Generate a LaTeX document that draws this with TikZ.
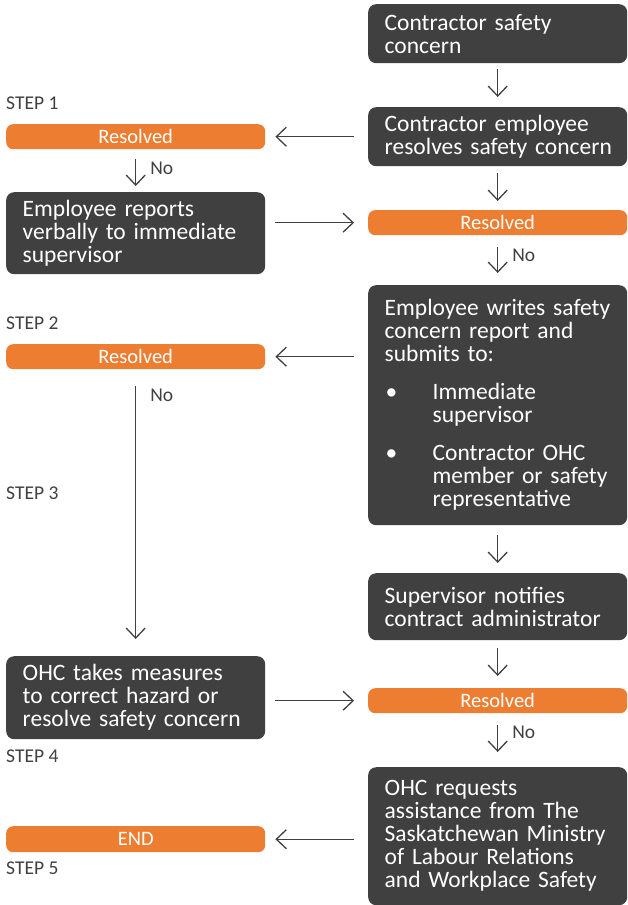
\documentclass[tikz,border=0pt]{standalone}
\usepackage{fontspec}
\setmainfont{Carlito}
\usepackage{tikz}
\usetikzlibrary{arrows.meta}

\definecolor{boxgray}{HTML}{404040}
\definecolor{flagorange}{HTML}{ED7D31}

\tikzset{
    darkbox/.style={fill=boxgray, text=white, rounded corners=8pt, anchor=north west,
        minimum width=259pt, text width=226pt, inner xsep=16.5pt, inner ysep=0pt,
        align=left, font=\fontsize{23.5}{23}\selectfont},
    resolvedbar/.style={fill=flagorange, text=white, rounded corners=7pt, anchor=north west,
        minimum width=259pt, minimum height=25pt, inner sep=0pt,
        font=\fontsize{20.5}{22}\selectfont},
    steplabel/.style={anchor=west, inner sep=0pt, text=boxgray, font=\fontsize{19.5}{20}\selectfont},
    nolabel/.style={anchor=west, inner sep=0pt, text=boxgray, font=\fontsize{19.5}{20}\selectfont},
    flow/.style={draw=boxgray, line width=1.3pt, -{Straight Barb[length=10pt,width=19pt]}}
}

\begin{document}
\begin{tikzpicture}[x=1pt, y=-1pt]
        \useasboundingbox (0,0) rectangle (627,905);

        % Right column
        \node[darkbox, minimum height=59pt] (start) at (368,4) {Contractor safety\\concern};
        \node[darkbox, minimum height=59pt] (selffix) at (368,107) {Contractor employee\\\mbox{resolves safety concern}};
        \node[resolvedbar] (res2) at (368,210) {Resolved};
        \node[darkbox, minimum height=240pt] (report) at (368,285) {Employee writes safety\\concern report and\\submits to:\\[15pt]
            \hspace*{1pt}\makebox[47pt][l]{\textbullet}Immediate\\
            \hspace*{48pt}supervisor\\[15pt]
            \hspace*{1pt}\makebox[47pt][l]{\textbullet}Contractor OHC\\
            \hspace*{48pt}member or safety\\
            \hspace*{48pt}representative};
        \node[darkbox, minimum height=67pt] (notify) at (368,573) {Supervisor notifies\\contract administrator};
        \node[resolvedbar] (res4) at (368,688) {Resolved};
        \node[darkbox, minimum height=138pt] (ministry) at (368,767) {OHC requests\\assistance from The\\Saskatchewan Ministry\\of Labour Relations\\and Workplace Safety};

        % Left column
        \node[resolvedbar] (res1) at (6,124) {Resolved};
        \node[darkbox, minimum height=82pt] (verbal) at (6,192) {Employee reports\\verbally to immediate\\supervisor};
        \node[resolvedbar] (res3) at (6,344) {Resolved};
        \node[darkbox, minimum height=83pt] (measures) at (6,656) {OHC takes measures\\to correct hazard or\\resolve safety concern};
        \node[resolvedbar, minimum height=26pt] (finish) at (6,826) {END};

        % Step labels
        \node[steplabel] (step1) at (6,103) {STEP 1};
        \node[steplabel] (step2) at (6,323) {STEP 2};
        \node[steplabel] (step3) at (6,493) {STEP 3};
        \node[steplabel] (step4) at (6,756) {STEP 4};
        \node[steplabel] (step5) at (6,868) {STEP 5};

        % Vertical arrows
        \draw[flow, shorten <=6pt, shorten >=10pt] (start) -- (selffix);
        \draw[flow, shorten <=7pt, shorten >=9pt] (selffix) -- (res2);
        \draw[flow, shorten <=12pt, shorten >=12pt] (res2) -- node[nolabel, pos=0.4, xshift=14pt] {No} (report);
        \draw[flow, shorten <=10pt, shorten >=10pt] (report) -- (notify);
        \draw[flow, shorten <=8pt, shorten >=12pt] (notify) -- (res4);
        \draw[flow, shorten <=12pt, shorten >=15pt] (res4) -- node[nolabel, pos=0.35, xshift=14pt] {No} (ministry);
        \draw[flow, shorten <=10pt, shorten >=6pt] (res1) -- node[nolabel, pos=0.44, xshift=14pt] {No} (verbal);
        \draw[flow, shorten <=17pt, shorten >=17pt] (res3) -- node[nolabel, pos=0.09, xshift=14pt] {No} (measures);

        % Horizontal arrows
        \draw[flow, shorten <=14pt, shorten >=10pt] (selffix.west |- res1.east) -- (res1.east);
        \draw[flow, shorten <=10pt, shorten >=14pt] (verbal.east |- res2.west) -- (res2.west);
        \draw[flow, shorten <=14pt, shorten >=10pt] (report.west |- res3.east) -- (res3.east);
        \draw[flow, shorten <=10pt, shorten >=14pt] (measures.east |- res4.west) -- (res4.west);
        \draw[flow, shorten <=14pt, shorten >=10pt] (ministry.west |- finish.east) -- (finish.east);

    \end{tikzpicture}
\end{document}
